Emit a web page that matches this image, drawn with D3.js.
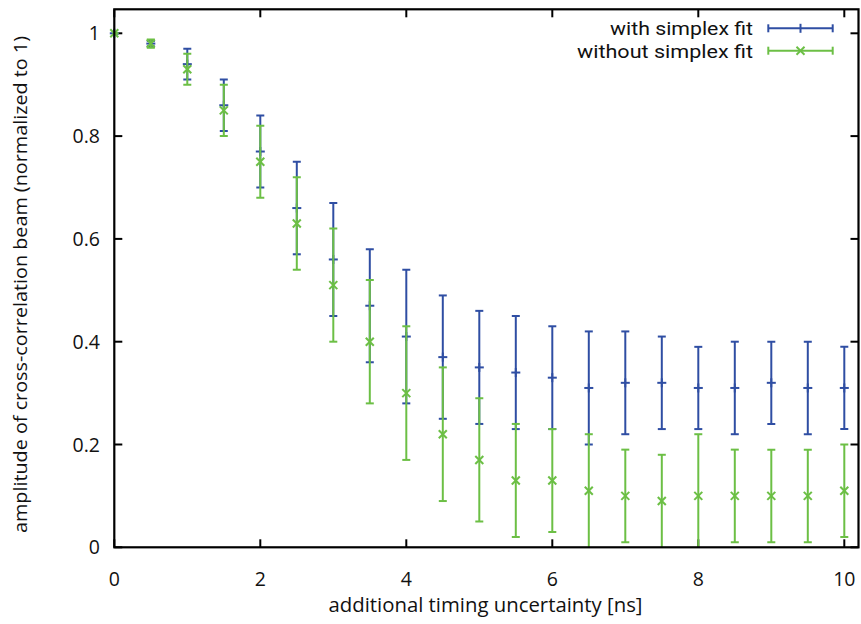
<!DOCTYPE html>
<html>
<head>
<meta charset="utf-8">
<script src="https://cdn.jsdelivr.net/npm/d3@7/dist/d3.min.js"></script>
<style>
  html, body { margin: 0; padding: 0; background: #fff; }
  svg { display: block; }
  text { font-family: "Open Sans", "DejaVu Sans", sans-serif; fill: #111; }
</style>
</head>
<body>
<svg id="chart" width="861" height="624"></svg>
<script>
// ---- data ----
const xValues = [0, 0.5, 1, 1.5, 2, 2.5, 3, 3.5, 4, 4.5, 5, 5.5, 6, 6.5, 7, 7.5, 8, 8.5, 9, 9.5, 10];

const withMean = [1, 0.98, 0.94, 0.86, 0.77, 0.66, 0.56, 0.47, 0.41, 0.37, 0.35, 0.34, 0.33, 0.31, 0.32, 0.32, 0.31, 0.31, 0.32, 0.31, 0.31];
const withLow  = [1, 0.975, 0.91, 0.81, 0.70, 0.57, 0.45, 0.36, 0.28, 0.25, 0.24, 0.23, 0.23, 0.20, 0.22, 0.23, 0.23, 0.22, 0.24, 0.22, 0.23];
const withHigh = [1, 0.985, 0.97, 0.91, 0.84, 0.75, 0.67, 0.58, 0.54, 0.49, 0.46, 0.45, 0.43, 0.42, 0.42, 0.41, 0.39, 0.40, 0.40, 0.40, 0.39];

const withoutMean = [1, 0.98, 0.93, 0.85, 0.75, 0.63, 0.51, 0.40, 0.30, 0.22, 0.17, 0.13, 0.13, 0.11, 0.10, 0.09, 0.10, 0.10, 0.10, 0.10, 0.11];
const withoutLow  = [1, 0.972, 0.90, 0.80, 0.68, 0.54, 0.40, 0.28, 0.17, 0.09, 0.05, 0.02, 0.03, -0.01, 0.01, -0.01, -0.02, 0.01, 0.01, 0.01, 0.02];
const withoutHigh = [1, 0.988, 0.96, 0.90, 0.82, 0.72, 0.62, 0.52, 0.43, 0.35, 0.29, 0.24, 0.23, 0.22, 0.19, 0.18, 0.22, 0.19, 0.19, 0.19, 0.20];

const seriesNames = ["with simplex fit", "without simplex fit"];
const xTicks = [0, 2, 4, 6, 8, 10];
const yTicks = [0, 0.2, 0.4, 0.6, 0.8, 1];
const xTitle = "additional timing uncertainty [ns]";
const yTitle = "amplitude of cross-correlation beam (normalized to 1)";

// ---- layout ----
const pL = 114.3, pR = 858.5, pT = 9.3, pB = 547.3;
const blue = "#2f4ea3", green = "#6cbf45";

const svg = d3.select("#chart");
const x = d3.scaleLinear().domain([0, 10]).range([pL, 844.3]);
const y = d3.scaleLinear().domain([0, 1]).range([pB, 33.3]);

svg.append("defs").append("clipPath").attr("id", "plotclip")
  .append("rect").attr("x", pL).attr("y", pT).attr("width", pR - pL).attr("height", pB - pT);

// ticks (inward, mirrored)
const tl = 8;
const tg = svg.append("g").attr("stroke", "#000").attr("stroke-width", 2);
xTicks.forEach(t => {
  tg.append("line").attr("x1", x(t)).attr("x2", x(t)).attr("y1", pB).attr("y2", pB - tl);
  tg.append("line").attr("x1", x(t)).attr("x2", x(t)).attr("y1", pT).attr("y2", pT + tl);
});
yTicks.forEach(t => {
  tg.append("line").attr("x1", pL).attr("x2", pL + tl).attr("y1", y(t)).attr("y2", y(t));
  tg.append("line").attr("x1", pR).attr("x2", pR - tl).attr("y1", y(t)).attr("y2", y(t));
});

// tick labels
const fmt = d => Number.isInteger(d) ? String(d) : d.toFixed(1);
svg.append("g").selectAll("text").data(xTicks).join("text")
  .attr("x", d => x(d)).attr("y", 585.5).attr("text-anchor", "middle")
  .attr("font-size", 19.5).text(fmt);
svg.append("g").selectAll("text").data(yTicks).join("text")
  .attr("x", 100).attr("y", d => y(d) + 7).attr("text-anchor", "end")
  .attr("font-size", 19.5).text(fmt);

// titles
svg.append("text").attr("x", 328.5).attr("y", 612.3)
  .attr("font-size", 20.3).attr("textLength", 314).attr("lengthAdjust", "spacingAndGlyphs")
  .text(xTitle);
svg.append("text").attr("transform", `translate(27, 533) rotate(-90)`)
  .attr("font-size", 18).attr("textLength", 497).attr("lengthAdjust", "spacingAndGlyphs")
  .text(yTitle);

// series drawing
function drawSeries(mean, lo, hi, color, marker) {
  const g = svg.append("g").attr("stroke", color).attr("stroke-width", 2).attr("fill", "none");
  const bars = g.append("g").attr("clip-path", "url(#plotclip)");
  const cw = 4;
  xValues.forEach((xv, i) => {
    const px = x(xv);
    bars.append("line").attr("x1", px).attr("x2", px).attr("y1", y(lo[i])).attr("y2", y(hi[i]));
    bars.append("line").attr("x1", px - cw).attr("x2", px + cw).attr("y1", y(lo[i])).attr("y2", y(lo[i]));
    bars.append("line").attr("x1", px - cw).attr("x2", px + cw).attr("y1", y(hi[i])).attr("y2", y(hi[i]));
    const py = y(mean[i]);
    if (marker === "+") {
      g.append("line").attr("x1", px - 4.5).attr("x2", px + 4.5).attr("y1", py).attr("y2", py);
      g.append("line").attr("x1", px).attr("x2", px).attr("y1", py - 4.5).attr("y2", py + 4.5);
    } else {
      g.append("line").attr("x1", px - 4).attr("x2", px + 4).attr("y1", py - 4).attr("y2", py + 4);
      g.append("line").attr("x1", px - 4).attr("x2", px + 4).attr("y1", py + 4).attr("y2", py - 4);
    }
  });
}
drawSeries(withMean, withLow, withHigh, blue, "+");
drawSeries(withoutMean, withoutLow, withoutHigh, green, "x");

// frame
svg.append("rect").attr("x", pL).attr("y", pT).attr("width", pR - pL).attr("height", pB - pT)
  .attr("fill", "none").attr("stroke", "#000").attr("stroke-width", 2.2);

// legend
const legend = [{name: seriesNames[0], color: blue, marker: "+", yy: 28.3, w: 143},
                {name: seriesNames[1], color: green, marker: "x", yy: 50.7, w: 176}];
legend.forEach(l => {
  svg.append("text").attr("x", 753 - l.w).attr("y", l.yy + 6.8)
    .style("font-family", "Roboto, 'Open Sans', sans-serif")
    .attr("font-size", 19).attr("textLength", l.w).attr("lengthAdjust", "spacingAndGlyphs")
    .text(l.name);
  const g = svg.append("g").attr("stroke", l.color).attr("stroke-width", 2);
  const x1 = 768.3, x2 = 832.7, xm = (x1 + x2) / 2;
  g.append("line").attr("x1", x1).attr("x2", x2).attr("y1", l.yy).attr("y2", l.yy);
  g.append("line").attr("x1", x1).attr("x2", x1).attr("y1", l.yy - 4).attr("y2", l.yy + 4);
  g.append("line").attr("x1", x2).attr("x2", x2).attr("y1", l.yy - 4).attr("y2", l.yy + 4);
  if (l.marker === "+") {
    g.append("line").attr("x1", xm).attr("x2", xm).attr("y1", l.yy - 4.5).attr("y2", l.yy + 4.5);
  } else {
    g.append("line").attr("x1", xm - 4).attr("x2", xm + 4).attr("y1", l.yy - 4).attr("y2", l.yy + 4);
    g.append("line").attr("x1", xm - 4).attr("x2", xm + 4).attr("y1", l.yy + 4).attr("y2", l.yy - 4);
  }
});
</script>
</body>
</html>
